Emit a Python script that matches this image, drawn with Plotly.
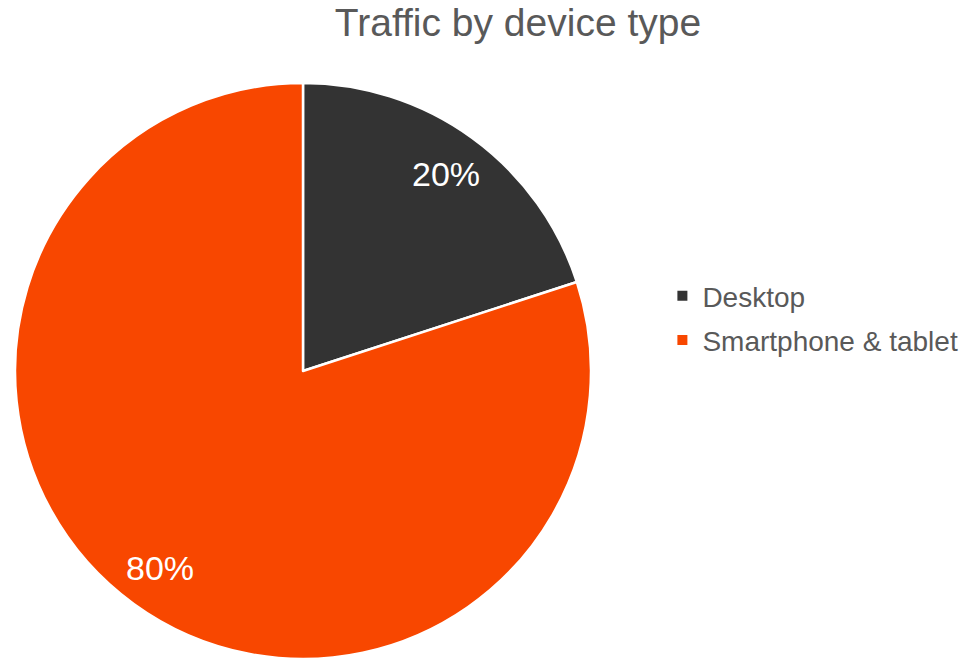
import math
import plotly.graph_objects as go

labels = ["Desktop", "Smartphone & tablet"]
values = [20, 80]
colors = ["#333333", "#F84700"]

W, H = 967, 662
cx, cy, R = 303, 371, 288  # pie centre / radius in px
FONT = "Liberation Sans, Arial, sans-serif"

dom_x = [(cx - R) / W, (cx + R) / W]
dom_y = [1 - (cy + R) / H, 1 - (cy - R) / H]

fig = go.Figure(go.Pie(
    labels=labels, values=values, sort=False, direction="clockwise", rotation=0,
    marker=dict(colors=colors, line=dict(color="white", width=2.5)),
    textinfo="none", hoverinfo="label+percent", showlegend=False,
    domain=dict(x=dom_x, y=dom_y),
))

# legend entries (one per category) with square markers
for lab, col in zip(labels, colors):
    fig.add_trace(go.Scatter(
        x=[None], y=[None], mode="markers", name=lab, legendgroup=lab,
        marker=dict(symbol="square", size=10, color=col),
        showlegend=True, hoverinfo="skip",
    ))

# percentage labels placed along each slice's mid angle
total = sum(values)
cum = 0
annotations = []
for v in values:
    mid = (cum + v / 2) / total * 2 * math.pi
    cum += v
    rf = 0.845
    px = cx + R * rf * math.sin(mid)
    py = cy - R * rf * math.cos(mid)
    annotations.append(dict(
        x=px / W, y=1 - py / H, xref="paper", yref="paper",
        text=f"{round(v / total * 100)}%", showarrow=False,
        font=dict(family=FONT, size=34, color="white"),
        xanchor="center", yanchor="middle",
    ))

fig.update_layout(
    width=W, height=H,
    margin=dict(l=0, r=0, t=0, b=0),
    paper_bgcolor="white", plot_bgcolor="white",
    xaxis=dict(visible=False, showgrid=False, zeroline=False),
    yaxis=dict(visible=False, showgrid=False, zeroline=False),
    title=dict(text="Traffic by device type", x=518 / W, xanchor="center",
               y=1 - 22 / H, yanchor="middle",
               font=dict(family=FONT, size=39, color="#595959")),
    legend=dict(x=0.685, xanchor="left", y=1 - 318 / H, yanchor="middle",
                font=dict(family=FONT, size=28, color="#595959"),
                tracegroupgap=5, itemsizing="trace",
                bgcolor="rgba(0,0,0,0)"),
    annotations=annotations,
)

fig.write_html("out.html")
